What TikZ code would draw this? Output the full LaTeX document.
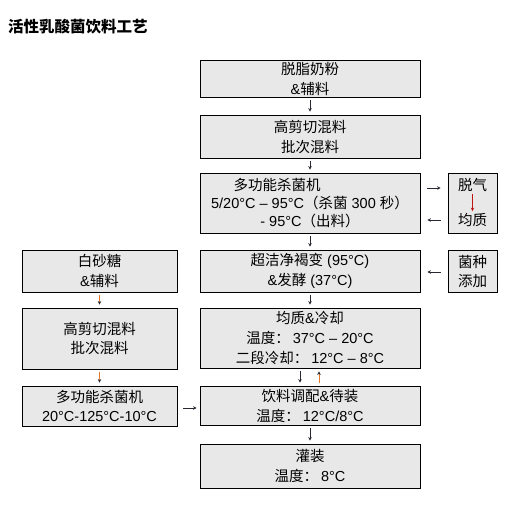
\documentclass[tikz,border=0pt]{standalone}
\usepackage{fontspec}
\setmainfont{Liberation Sans}
\newfontfamily\cjk{Noto Sans CJK SC}
\newcommand\zh[1]{{\cjk #1}}
\usetikzlibrary{arrows.meta,calc}
\definecolor{boxfill}{RGB}{232,232,232}
\definecolor{arrdark}{RGB}{40,40,50}
\definecolor{arrorange}{RGB}{232,120,40}
\definecolor{arrred}{RGB}{190,20,20}
\tikzset{
  box/.style={draw=black, line width=0.8pt, fill=boxfill, inner sep=0pt, align=center,
    font=\fontsize{14.5pt}{20pt}\selectfont},
  lbl/.style={inner sep=0pt, font=\fontsize{14.5pt}{20pt}\selectfont},
  arr/.style={draw=arrdark, line width=0.7pt, -{Stealth[length=3.5pt,width=3.5pt]}},
  arro/.style={draw=arrorange, line width=0.8pt, -{Stealth[length=3.5pt,width=3.5pt,color=arrdark]}},
}
\begin{document}
\begin{tikzpicture}[x=1pt,y=-1pt]
\useasboundingbox (0,0) rectangle (522,509);
\node[anchor=west, inner sep=0pt, font=\fontsize{15.5pt}{18pt}\selectfont\cjk\bfseries] (title) at (8,27) {活性乳酸菌饮料工艺};

% main column
\node[box, minimum width=220pt, minimum height=37pt] (m1) at (310,78.5) {\zh{脱脂奶粉}\\\&\zh{辅料}};
\node[box, minimum width=220pt, minimum height=43pt] (m2) at (310,136.5) {\zh{高剪切混料}\\\zh{批次混料}};
\node[box, minimum width=220pt, minimum height=60pt, font=\fontsize{14.5pt}{18pt}\selectfont] (m3) at (310,203)
  {\zh{多功能杀菌机}\hspace*{66pt}\\5/20°C – 95°C\zh{（杀菌} 300 \zh{秒）}\\- 95°C\zh{（出料）}};
\node[box, minimum width=220pt, minimum height=42pt] (m4) at (310,271) {\zh{超洁净褐变} (95°C)\\\&\zh{发酵} (37°C)};
\node[box, minimum width=220pt, minimum height=60pt] (m5) at (310,338) {\zh{均质}\&\zh{冷却}\\\zh{温度：}\hspace{3pt}37°C – 20°C\\\zh{二段冷却：}\hspace{3pt}12°C – 8°C};
\node[box, minimum width=220pt, minimum height=39pt] (m6) at (310,405.5) {\zh{饮料调配}\&\zh{待装}\\\zh{温度：}\hspace{3pt}12°C/8°C};
\node[box, minimum width=220pt, minimum height=44pt] (m7) at (310,466) {\zh{灌装}\\\zh{温度：}\hspace{3pt}8°C};

% right column
\node[box, minimum width=49pt, minimum height=60pt] (r1) at (472.5,203) {};
\node[lbl] (r1a) at (472.5,185) {\zh{脱气}};
\node[lbl] (r1b) at (472.5,220) {\zh{均质}};
\node[box, minimum width=49pt, minimum height=42pt, font=\fontsize{14.5pt}{19pt}\selectfont] (r2) at (472.5,271) {\zh{菌种}\\\zh{添加}};

% left column
\node[box, minimum width=155pt, minimum height=42pt] (l1) at (99.5,271) {\zh{白砂糖}\\\&\zh{辅料}};
\node[box, minimum width=155pt, minimum height=61pt, font=\fontsize{14.5pt}{19pt}\selectfont] (l2) at (99.5,338.5) {\zh{高剪切混料}\\\zh{批次混料}};
\node[box, minimum width=155pt, minimum height=40pt, font=\fontsize{14.5pt}{19pt}\selectfont] (l3) at (99.5,406) {\zh{多功能杀菌机}\\20°C-125°C-10°C};

% main arrows
\draw[arr, shorten <=2.5pt, shorten >=3pt] (m1) -- (m2);
\draw[arr, shorten <=2.5pt, shorten >=3pt] (m2) -- (m3);
\draw[arr, shorten <=2.5pt, shorten >=3pt] (m3) -- (m4);
\draw[arr, shorten <=2.5pt, shorten >=3pt] (m4) -- (m5);
\draw[arr, shorten <=2.5pt, shorten >=3pt] ([xshift=-10pt]m5.south) -- ([xshift=-10pt]m6.north);
\draw[arro, shorten <=2.5pt, shorten >=3pt] ([xshift=9pt]m6.north) -- ([xshift=9pt]m5.south);
\draw[arr, shorten <=2.5pt, shorten >=3pt] (m6) -- (m7);

% side arrows
\draw[arr, shorten <=7pt, shorten >=7pt] ([yshift=15pt]m3.east) -- ([yshift=15pt]r1.west);
\draw[arr, shorten <=7pt, shorten >=7pt] ([yshift=-17pt]r1.west) -- ([yshift=-17pt]m3.east);
\draw[arr, shorten <=7pt, shorten >=7pt] ([yshift=-1pt]r2.west) -- ([yshift=-1pt]m4.east);
\draw[arr, shorten <=6pt, shorten >=3pt] ([yshift=-2pt]l3.east) -- ([yshift=-2.5pt]m6.west);
\draw[draw=arrred, line width=0.7pt, -{Stealth[length=3.5pt,width=3.5pt]}, shorten <=2pt, shorten >=2pt] (r1a) -- (r1b);

% left arrows
\draw[arro, shorten <=2.5pt, shorten >=3pt] (l1) -- (l2);
\draw[arro, shorten <=2.5pt, shorten >=3pt] (l2) -- (l3);
\end{tikzpicture}
\end{document}
